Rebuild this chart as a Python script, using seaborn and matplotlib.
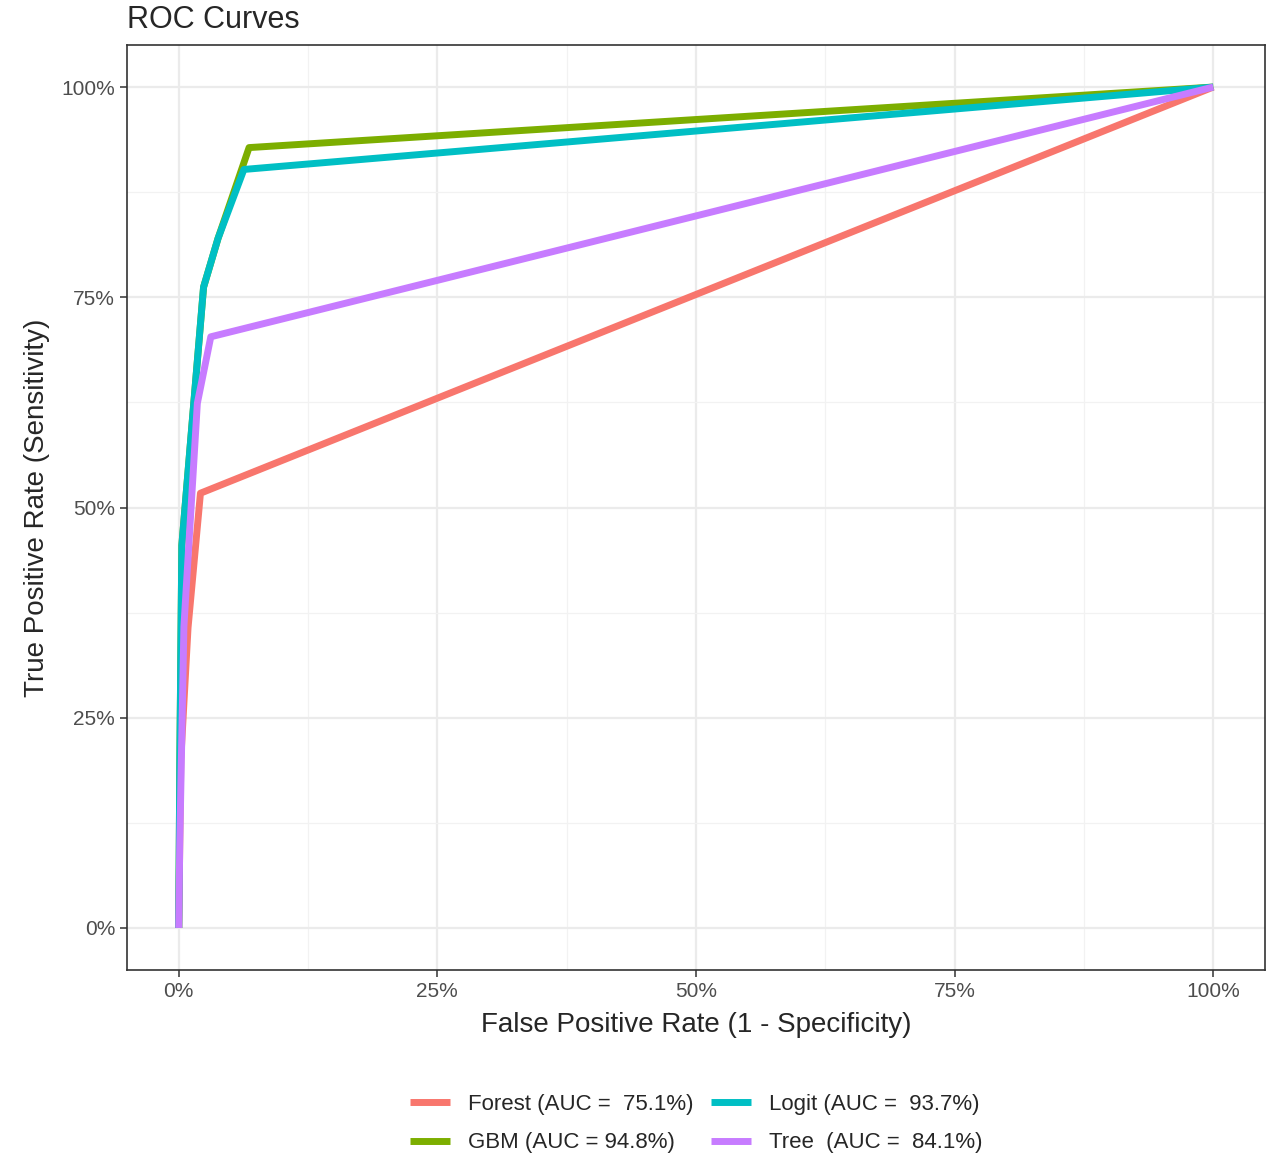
import numpy as np
import pandas as pd
import matplotlib.pyplot as plt
import seaborn as sns
from matplotlib.ticker import PercentFormatter, MultipleLocator

sns.set_theme(style="whitegrid")
plt.rcParams['font.family'] = ['Liberation Sans', 'DejaVu Sans']

# --+ Data +--------------------------------------------------------------------
forest_fpr = [0.0, 0.2, 0.9, 2.1, 100.0]
forest_tpr = [0.0, 20.0, 35.7, 51.7, 100.0]
gbm_fpr = [0.0, 0.1, 0.3, 2.4, 3.8, 6.8, 100.0]
gbm_tpr = [0.0, 19.0, 45.5, 76.2, 82.0, 92.8, 100.0]
logit_fpr = [0.0, 0.1, 0.3, 2.4, 3.8, 6.3, 100.0]
logit_tpr = [0.0, 19.0, 45.5, 76.2, 82.0, 90.2, 100.0]
tree_fpr = [0.0, 0.1, 0.5, 1.8, 3.1, 100.0]
tree_tpr = [0.0, 10.0, 35.8, 62.4, 70.3, 100.0]
labels = ["Forest (AUC =  75.1%)", "GBM (AUC = 94.8%)",
          "Logit (AUC =  93.7%)", "Tree  (AUC =  84.1%)"]
colors = ["#F8766D", "#7CAE00", "#00BFC4", "#C77CFF"]

frames = []
for lab, fx, ty in zip(labels, [forest_fpr, gbm_fpr, logit_fpr, tree_fpr],
                       [forest_tpr, gbm_tpr, logit_tpr, tree_tpr]):
    frames.append(pd.DataFrame({"fpr": fx, "tpr": ty, "model": lab}))
df = pd.concat(frames, ignore_index=True)

# --+ Plot +--------------------------------------------------------------------
fig = plt.figure(figsize=(12.78, 11.7), dpi=100)
ax = fig.add_axes([127/1278, 200/1170, 1138/1278, 925/1170])
sns.lineplot(data=df, x="fpr", y="tpr", hue="model", hue_order=labels,
             palette=colors, sort=False, linewidth=5, ax=ax, estimator=None,
             solid_capstyle="butt")

ax.set_xlim(-5, 105)
ax.set_ylim(-5, 105)
ax.xaxis.set_major_locator(MultipleLocator(25))
ax.yaxis.set_major_locator(MultipleLocator(25))
ax.xaxis.set_minor_locator(MultipleLocator(12.5))
ax.yaxis.set_minor_locator(MultipleLocator(12.5))
ax.xaxis.set_major_formatter(PercentFormatter(decimals=0))
ax.yaxis.set_major_formatter(PercentFormatter(decimals=0))
ax.grid(which="major", color="#ebebeb", linewidth=1.6)
ax.grid(which="minor", color="#f2f2f2", linewidth=0.9)
for s in ax.spines.values():
    s.set_color("#333333")
    s.set_linewidth(1.2)
ax.tick_params(axis="both", which="major", length=5, width=1.1, color="#333333",
               labelsize=15, labelcolor="#4d4d4d", bottom=True, left=True)
ax.tick_params(which="minor", length=0)

ax.set_xlabel("False Positive Rate (1 - Specificity)", fontsize=20, labelpad=8)
ax.set_ylabel("True Positive Rate (Sensitivity)", fontsize=20, labelpad=8)
ax.set_title("ROC Curves", loc="left", fontsize=22, pad=12)

ax.legend(loc="upper center", bbox_to_anchor=(0.5, -0.112), ncol=2, frameon=False,
          fontsize=16, handlelength=1.8, columnspacing=0.8, labelspacing=0.8)

plt.savefig("out.png")
